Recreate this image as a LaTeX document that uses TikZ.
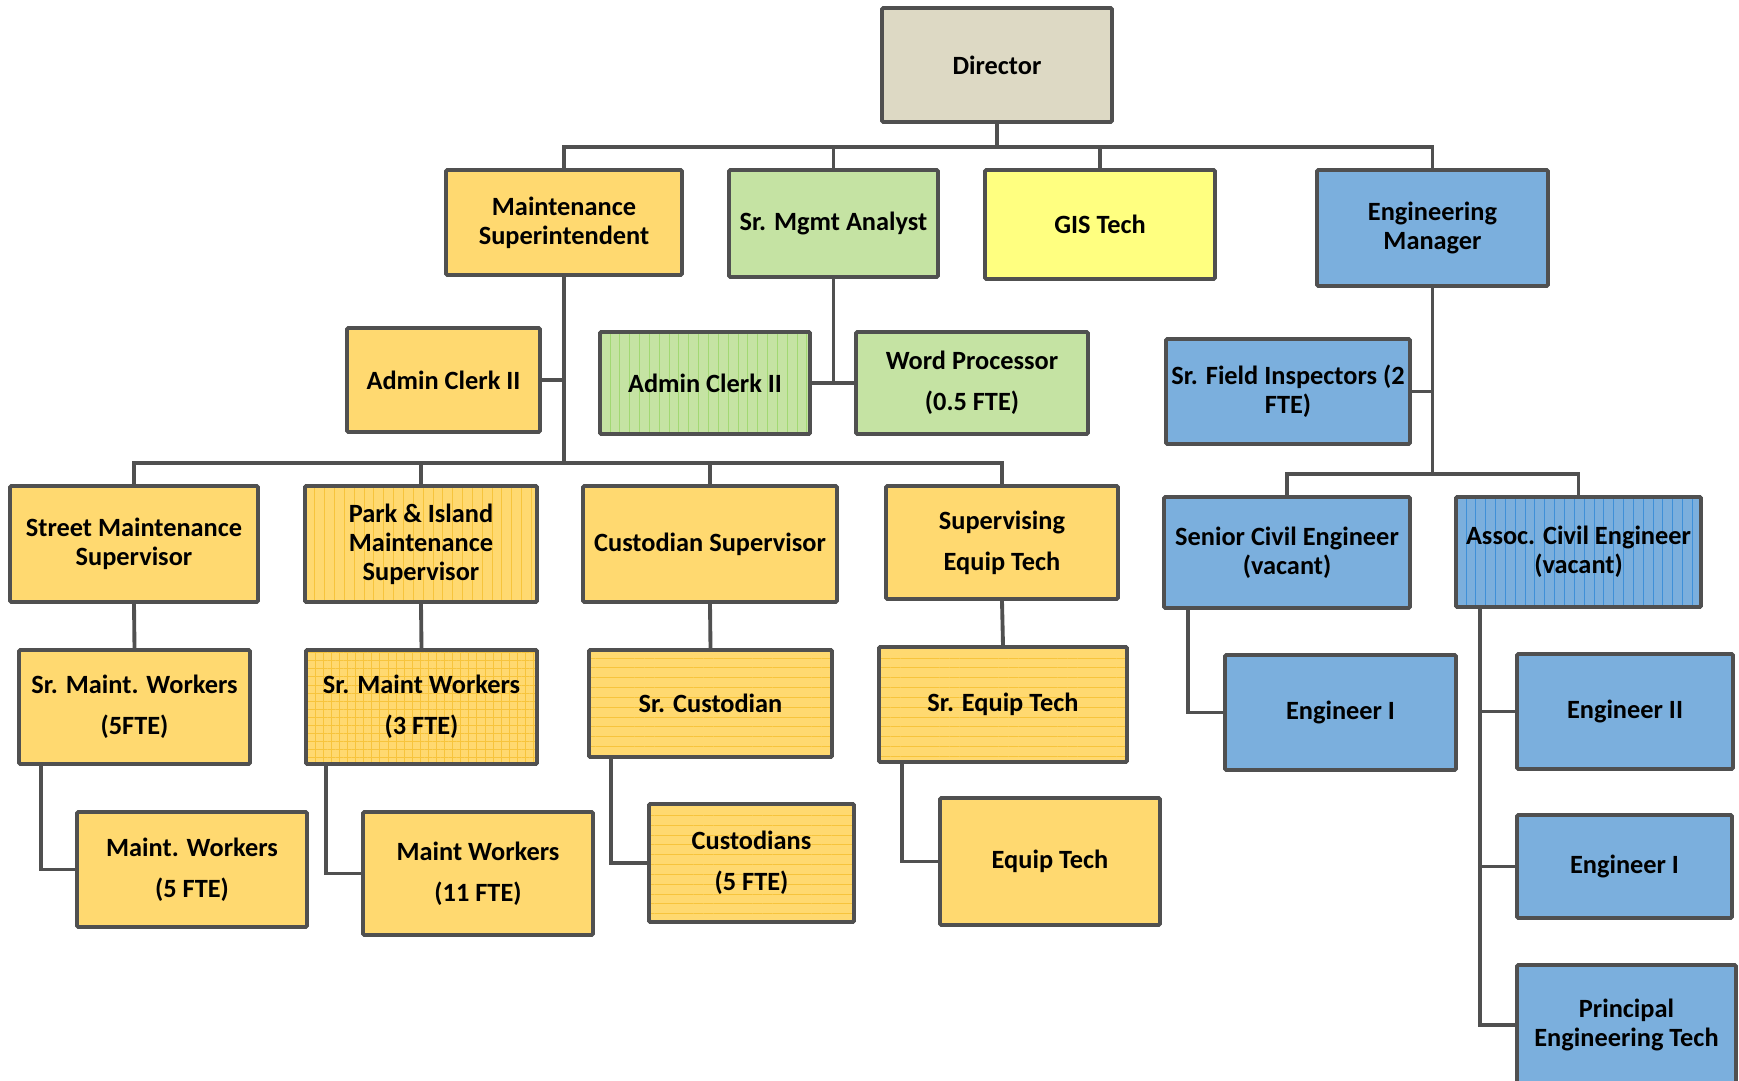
\documentclass[tikz,border=0pt]{standalone}
\usepackage{fontspec}
\setmainfont{Carlito}
\usetikzlibrary{patterns.meta}

\definecolor{boxline}{HTML}{505050}
\definecolor{dirtan}{HTML}{DDD9C4}
\definecolor{maintyellow}{HTML}{FFD970}
\definecolor{mgmtgreen}{HTML}{C5E3A3}
\definecolor{gisyellow}{HTML}{FFFF80}
\definecolor{engblue}{HTML}{7BAFDD}
\definecolor{ystripe}{HTML}{F7C43C}
\definecolor{gstripe}{HTML}{A2D873}
\definecolor{bstripe}{HTML}{3F90D8}

\tikzset{
  orgbox/.style={draw=boxline, line width=2.2pt, rounded corners=0.8pt, align=center,
    inner sep=0pt, font=\fontsize{15}{16.5}\selectfont\bfseries},
  dirbox/.style={orgbox, fill=dirtan},
  ybox/.style={orgbox, fill=maintyellow},
  gbox/.style={orgbox, fill=mgmtgreen},
  gisbox/.style={orgbox, fill=gisyellow},
  bbox/.style={orgbox, fill=engblue},
  redraw/.style={postaction={draw=boxline, line width=2.2pt}},
  vstripe/.style={postaction={pattern={Lines[angle=90,distance=5.6pt,line width=0.45pt]}, pattern color=#1}, redraw},
  hstripe/.style={postaction={pattern={Lines[angle=0,distance=5.6pt,line width=0.45pt]}, pattern color=#1}, redraw},
  gridstripe/.style={postaction={pattern={Hatch[angle=0,distance=4.6pt,line width=0.45pt]}, pattern color=#1}, redraw},
  link/.style={draw=boxline, line width=2.2pt}
}

\begin{document}
\begin{tikzpicture}[x=0.02cm, y=-0.02cm]
  \useasboundingbox (0,0) rectangle (1739,1081);

  % Haut
  \node[dirbox, minimum width=4.6cm, minimum height=2.28cm] (dir) at (997,65) {Director};
  \node[ybox, minimum width=4.72cm, minimum height=2.1cm] (msup) at (564,222.5) {Maintenance\\Superintendent};
  \node[gbox, minimum width=4.18cm, minimum height=2.14cm] (mgmt) at (833.5,223.5) {Sr. Mgmt Analyst};
  \node[gisbox, minimum width=4.6cm, minimum height=2.18cm] (gis) at (1100,224.5) {GIS Tech};
  \node[bbox, minimum width=4.62cm, minimum height=2.32cm] (engmgr) at (1432.5,228) {Engineering\\Manager};

  % Adjoints
  \node[ybox, minimum width=3.86cm, minimum height=2.08cm] (clerky) at (443.5,380) {Admin Clerk II};
  \node[gbox, vstripe=gstripe, minimum width=4.2cm, minimum height=2.04cm] (clerkg) at (705,383) {Admin Clerk II};
  \node[gbox, minimum width=4.64cm, minimum height=2.04cm] (wordp) at (972,383) {Word Processor\\[6.8pt](0.5 FTE)};
  \node[bbox, minimum width=4.88cm, minimum height=2.1cm] (field) at (1288,391.5) {Sr. Field Inspectors (2\\FTE)};

  % Superviseurs
  \node[ybox, minimum width=4.96cm, minimum height=2.32cm] (street) at (134,544) {Street Maintenance\\Supervisor};
  \node[ybox, vstripe=ystripe, minimum width=4.64cm, minimum height=2.32cm] (park) at (421,544) {Park \& Island\\Maintenance\\Supervisor};
  \node[ybox, minimum width=5.08cm, minimum height=2.32cm] (custsup) at (710,544) {Custodian Supervisor};
  \node[ybox, minimum width=4.64cm, minimum height=2.26cm] (supequip) at (1002,542.5) {Supervising\\[6.8pt]Equip Tech};
  \node[bbox, minimum width=4.92cm, minimum height=2.22cm] (civil) at (1287,552.5) {Senior Civil Engineer\\(vacant)};
  \node[bbox, vstripe=bstripe, minimum width=4.9cm, minimum height=2.2cm] (assoc) at (1578.5,552) {Assoc. Civil Engineer\\(vacant)};

  % Seniors
  \node[ybox, minimum width=4.62cm, minimum height=2.28cm] (srmfive) at (134.5,707) {Sr. Maint. Workers\\[6.8pt](5FTE)};
  \node[ybox, gridstripe=ystripe, minimum width=4.62cm, minimum height=2.28cm] (srmthree) at (421.5,707) {Sr. Maint Workers\\[6.8pt](3 FTE)};
  \node[ybox, hstripe=ystripe, minimum width=4.86cm, minimum height=2.14cm] (srcust) at (710.5,703.5) {Sr. Custodian};
  \node[ybox, hstripe=ystripe, minimum width=4.96cm, minimum height=2.3cm] (srequip) at (1003,704.5) {Sr. Equip Tech};
  \node[bbox, minimum width=4.62cm, minimum height=2.3cm] (engonel) at (1340.5,712.5) {Engineer I};
  \node[bbox, minimum width=4.32cm, minimum height=2.3cm] (engtwo) at (1625,711.5) {Engineer II};

  % Equipes
  \node[ybox, minimum width=4.6cm, minimum height=2.3cm] (mwfive) at (192,869.5) {Maint. Workers\\[6.8pt](5 FTE)};
  \node[ybox, minimum width=4.6cm, minimum height=2.46cm] (mweleven) at (478,873.5) {Maint Workers\\[6.8pt](11 FTE)};
  \node[ybox, hstripe=ystripe, minimum width=4.1cm, minimum height=2.36cm] (cust) at (751.5,863) {Custodians\\[6.8pt](5 FTE)};
  \node[ybox, minimum width=4.4cm, minimum height=2.54cm] (equip) at (1050,861.5) {Equip Tech};
  \node[bbox, minimum width=4.3cm, minimum height=2.06cm] (engoner) at (1624.5,866.5) {Engineer I};
  \node[bbox, minimum width=4.38cm, minimum height=2.4cm] (princ) at (1626.5,1025) {Principal\\Engineering Tech};

  % Liaisons du directeur
  \foreach \n in {msup,mgmt,gis,engmgr}
    \draw[link] (dir.south) -- ++(0,23) -| (\n.north);

  % Entretien
  \draw[link] (clerky.east) -- (clerky.east -| msup.south);
  \foreach \n in {street,park,custsup,supequip}
    \draw[link] (msup.south) -- ++(0,186) -| (\n.north);

  % Analyste
  \draw[link] (mgmt.south) -- (mgmt.south |- clerkg.east);
  \draw[link] (clerkg.east) -- (wordp.west);

  % Ingenierie
  \draw[link] (field.east) -- (field.east -| engmgr.south);
  \foreach \n in {civil,assoc}
    \draw[link] (engmgr.south) -- ++(0,186) -| (\n.north);

  % Lignes hierarchiques
  \draw[link] (street.south) -- (srmfive.north);
  \draw[link] (park.south) -- (srmthree.north);
  \draw[link] (custsup.south) -- (srcust.north);
  \draw[link] (supequip.south) -- (srequip.north);
  \draw[link] ([xshift=0.48cm]srmfive.south west) |- (mwfive.west);
  \draw[link] ([xshift=0.44cm]srmthree.south west) |- (mweleven.west);
  \draw[link] ([xshift=0.48cm]srcust.south west) |- (cust.west);
  \draw[link] ([xshift=0.5cm]srequip.south west) |- (equip.west);
  \draw[link] ([xshift=0.52cm]civil.south west) |- (engonel.west);
  \foreach \n in {engtwo,engoner,princ}
    \draw[link] ([xshift=0.52cm]assoc.south west) |- (\n.west);
\end{tikzpicture}
\end{document}
